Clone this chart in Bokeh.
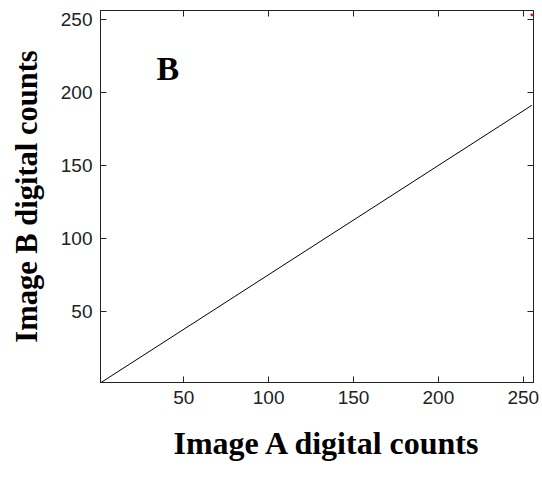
from bokeh.plotting import figure
from bokeh.models import LinearAxis, Range1d, FixedTicker, Label, CustomJSTickFormatter, Title
from bokeh.embed import file_html
from bokeh.resources import INLINE

# Data
line_x = [0, 255]
line_y = [0, 191]
stray_x = [255]
stray_y = [253]
tick_values = [50, 100, 150, 200, 250]
x_label = "Image A digital counts"
y_label = "Image B digital counts"
panel_label = "B"

p = figure(width=542, height=477, output_backend="svg", toolbar_location=None,
           x_range=Range1d(1, 256), y_range=Range1d(1, 256),
           min_border_left=100, min_border_right=9, min_border_top=10, min_border_bottom=94)
p.grid.visible = False
p.outline_line_color = "#222222"
p.background_fill_color = "white"
p.border_fill_color = "white"

p.line(line_x, line_y, line_color="black", line_width=1)
p.scatter(stray_x, stray_y, size=2, color="red")

def style_axis(ax, show_labels=True):
    ax.ticker = FixedTicker(ticks=tick_values)
    ax.minor_tick_line_color = None
    ax.major_tick_in = 6
    ax.major_tick_out = 0
    ax.major_tick_line_color = "#222222"
    ax.axis_line_color = "#222222"
    ax.major_label_text_font = "Liberation Sans"
    ax.major_label_text_font_size = "19px"
    ax.major_label_text_color = "#222222"
    ax.major_label_standoff = 8
    if not show_labels:
        ax.formatter = CustomJSTickFormatter(code="return '';")
        ax.major_label_standoff = 0

for ax in p.xaxis:
    style_axis(ax)

for ax in p.yaxis:
    style_axis(ax)
    ax.axis_label = y_label
    ax.axis_label_text_font = "Liberation Serif"
    ax.axis_label_text_font_style = "bold"
    ax.axis_label_text_font_size = "30.5px"
    ax.axis_label_text_color = "black"
    ax.axis_label_standoff = 14

top = LinearAxis()
style_axis(top, show_labels=False)
p.add_layout(top, "above")
right = LinearAxis()
style_axis(right, show_labels=False)
p.add_layout(right, "right")

p.add_layout(Title(text=x_label, align="left", offset=73, standoff=33,
                   text_font="Liberation Serif", text_font_style="bold",
                   text_font_size="32px", text_color="black"), "below")

p.add_layout(Label(x=34, y=216.5, text=panel_label,
                   text_font="Liberation Serif", text_font_style="bold",
                   text_font_size="34px", text_color="black", text_baseline="alphabetic"))

open("out.html", "w").write(file_html(p, INLINE))
